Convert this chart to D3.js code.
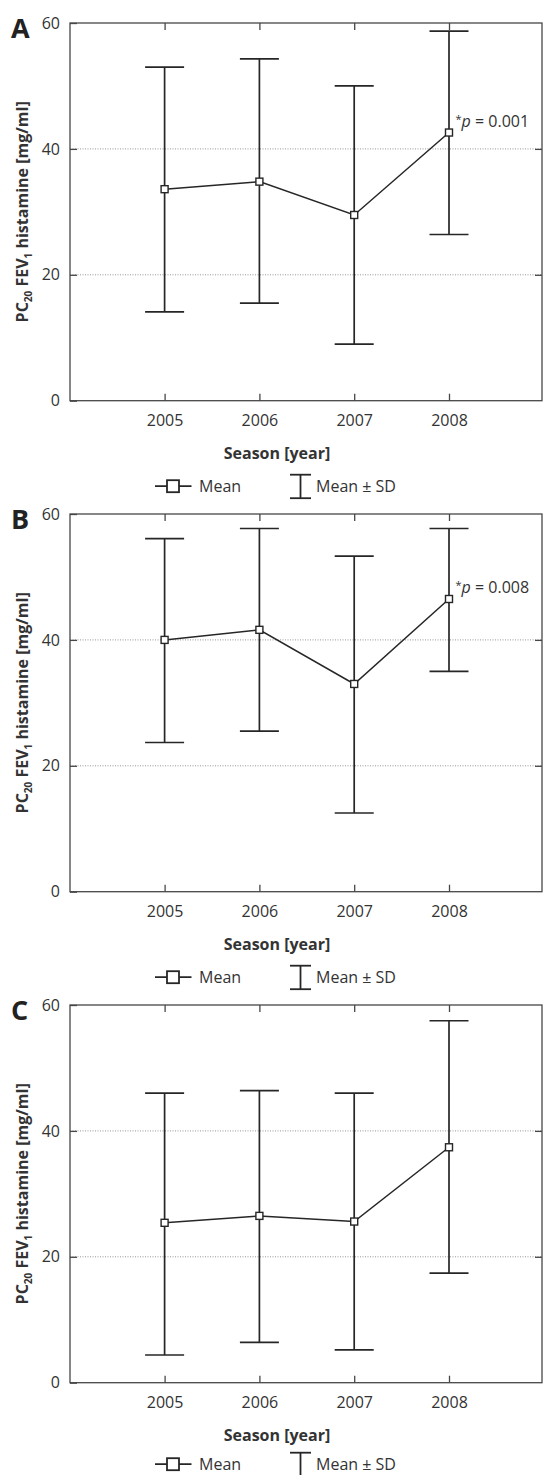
<!DOCTYPE html>
<html><head><meta charset="utf-8">
<script src="https://cdn.jsdelivr.net/npm/d3@7"></script>
<style>
body{margin:0;background:#fff;}
svg{display:block;font-family:"Open Sans",sans-serif;}
</style>
</head><body>
<svg id="chart" width="543" height="1475"></svg>
<script>
// ---- data ----
const years = [2005, 2006, 2007, 2008];
const yTicks = [0, 20, 40, 60];
const gridValues = [20, 40];
const panelLetters = ["A", "B", "C"];
const meanA  = [33.6, 34.8, 29.5, 42.6];
const upperA = [53.0, 54.3, 50.0, 58.7];
const lowerA = [14.1, 15.5, 9.0, 26.4];
const meanB  = [40.0, 41.6, 33.0, 46.5];
const upperB = [56.1, 57.7, 53.3, 57.7];
const lowerB = [23.7, 25.5, 12.5, 35.0];
const meanC  = [25.4, 26.5, 25.6, 37.4];
const upperC = [46.0, 46.4, 46.0, 57.5];
const lowerC = [4.4, 6.4, 5.2, 17.4];
const pValues = ["0.001", "0.008", null];
const xTitle = "Season [year]";
const legendLabels = ["Mean", "Mean \u00B1 SD"];

const panels = [
  {letter: panelLetters[0], mean: meanA, upper: upperA, lower: lowerA, p: pValues[0]},
  {letter: panelLetters[1], mean: meanB, upper: upperB, lower: lowerB, p: pValues[1]},
  {letter: panelLetters[2], mean: meanC, upper: upperC, lower: lowerC, p: pValues[2]}
];

const svg = d3.select("#chart");
const INK = "#262626", TXT = "#333";
const left = 70, right = 542, firstTop = 23, panelH = 377.7, step = 491;
const x = d3.scaleLinear().domain([2004, 2009]).range([69.8, 543.8]);

panels.forEach((pd, i) => {
  const top = firstTop + i * step, bottom = top + panelH;
  const y = d3.scaleLinear().domain([0, 60]).range([bottom, top]);
  const g = svg.append("g");

  // gridlines
  g.selectAll("line.grid").data(gridValues).join("line")
    .attr("x1", left).attr("x2", right)
    .attr("y1", d => y(d)).attr("y2", d => y(d))
    .attr("stroke", "#8a8a8a").attr("stroke-width", 0.9)
    .attr("stroke-dasharray", "1,1.5");

  // frame
  g.append("rect").attr("x", left).attr("y", top)
    .attr("width", right - left).attr("height", bottom - top)
    .attr("fill", "none").attr("stroke", "#474747").attr("stroke-width", 1.3);

  // axes (inward ticks)
  const axB = g.append("g").attr("transform", `translate(0,${bottom})`)
    .call(d3.axisBottom(x).tickValues(years).tickSize(-7).tickFormat(d3.format("d")));
  axB.selectAll("text").attr("y", 19.5).attr("dy", "0.35em");
  const axT = g.append("g").attr("transform", `translate(0,${top})`)
    .call(d3.axisTop(x).tickValues(years).tickSize(-7).tickFormat(""));
  const axL = g.append("g").attr("transform", `translate(${left},0)`)
    .call(d3.axisLeft(y).tickValues(yTicks).tickSize(-7).tickPadding(10).tickFormat(d3.format("d")));
  const axR = g.append("g").attr("transform", `translate(${right},0)`)
    .call(d3.axisRight(y).tickValues(gridValues).tickSize(-7).tickFormat(""));
  [axB, axT, axL, axR].forEach(a => {
    a.select(".domain").remove();
    a.selectAll("line").attr("stroke", "#474747").attr("stroke-width", 1.3);
    a.selectAll("text").attr("fill", TXT).attr("font-size", 16)
      .attr("font-family", "'Open Sans',sans-serif");
  });

  // error bars
  const eb = g.selectAll("g.eb").data(years).join("g");
  eb.append("line")
    .attr("x1", d => x(d)).attr("x2", d => x(d))
    .attr("y1", (d, k) => y(pd.lower[k])).attr("y2", (d, k) => y(pd.upper[k]))
    .attr("stroke", INK).attr("stroke-width", 1.7);
  eb.append("line")
    .attr("x1", d => x(d) - 19.5).attr("x2", d => x(d) + 19.5)
    .attr("y1", (d, k) => y(pd.upper[k])).attr("y2", (d, k) => y(pd.upper[k]))
    .attr("stroke", INK).attr("stroke-width", 1.7);
  eb.append("line")
    .attr("x1", d => x(d) - 19.5).attr("x2", d => x(d) + 19.5)
    .attr("y1", (d, k) => y(pd.lower[k])).attr("y2", (d, k) => y(pd.lower[k]))
    .attr("stroke", INK).attr("stroke-width", 1.7);

  // mean line
  const line = d3.line().x((d, k) => x(years[k])).y(d => y(d));
  g.append("path").datum(pd.mean).attr("d", line)
    .attr("fill", "none").attr("stroke", INK).attr("stroke-width", 1.5);
  g.selectAll("rect.m").data(pd.mean).join("rect")
    .attr("x", (d, k) => x(years[k]) - 3.5).attr("y", d => y(d) - 3.5)
    .attr("width", 7).attr("height", 7)
    .attr("fill", "#fff").attr("stroke", INK).attr("stroke-width", 1.4);

  // p annotation
  if (pd.p) {
    const last = years.length - 1;
    const t = g.append("text")
      .attr("x", x(years[last]) + 6.5).attr("y", y(pd.mean[last]) - 6)
      .attr("font-size", 16).attr("fill", TXT);
    t.append("tspan").text("*").attr("font-size", 11).attr("dy", -4);
    t.append("tspan").text("p").attr("font-style", "italic").attr("dy", 4);
    t.append("tspan").text(" = " + pd.p);
  }

  // panel letter
  g.append("text").attr("x", 11).attr("y", top + 15)
    .attr("font-size", 27).attr("font-weight", 700).attr("fill", "#222")
    .text(pd.letter);

  // y-axis label
  const yl = g.append("text")
    .attr("transform", `translate(28,${(top + bottom) / 2}) rotate(-90)`)
    .attr("text-anchor", "middle").attr("font-size", 16).attr("font-weight", 700)
    .attr("fill", TXT);
  yl.append("tspan").text("PC");
  yl.append("tspan").text("20").attr("font-size", 10).attr("dy", 4);
  yl.append("tspan").text(" FEV").attr("dy", -4);
  yl.append("tspan").text("1").attr("font-size", 10).attr("dy", 4);
  yl.append("tspan").text(" histamine [mg/ml]").attr("dy", -4);

  // x title
  g.append("text").attr("x", 277).attr("y", bottom + 52.5).attr("dy", "0.35em")
    .attr("text-anchor", "middle").attr("font-size", 16).attr("font-weight", 700)
    .attr("fill", TXT).text(xTitle);

  // legend (last one nudged up so its text stays inside the page)
  const ly = bottom + (i === panels.length - 1 ? 81.5 : 85.5);
  g.append("line").attr("x1", 155).attr("x2", 191.5).attr("y1", ly).attr("y2", ly)
    .attr("stroke", INK).attr("stroke-width", 1.8);
  g.append("rect").attr("x", 173 - 6).attr("y", ly - 6).attr("width", 12).attr("height", 12)
    .attr("fill", "#fff").attr("stroke", INK).attr("stroke-width", 1.8);
  g.append("text").attr("x", 199).attr("y", ly).attr("dy", "0.35em")
    .attr("font-size", 16).attr("fill", TXT).text(legendLabels[0]);
  const ex = 300.5;
  g.append("line").attr("x1", ex).attr("x2", ex).attr("y1", ly - 11.5).attr("y2", ly + 12)
    .attr("stroke", INK).attr("stroke-width", 1.8);
  [ly - 11.5, ly + 12].forEach(yy => {
    g.append("line").attr("x1", ex - 10.5).attr("x2", ex + 10.5).attr("y1", yy).attr("y2", yy)
      .attr("stroke", INK).attr("stroke-width", 1.8);
  });
  g.append("text").attr("x", 316).attr("y", ly).attr("dy", "0.35em")
    .attr("font-size", 16).attr("fill", TXT).text(legendLabels[1]);
});
</script>
</body></html>
